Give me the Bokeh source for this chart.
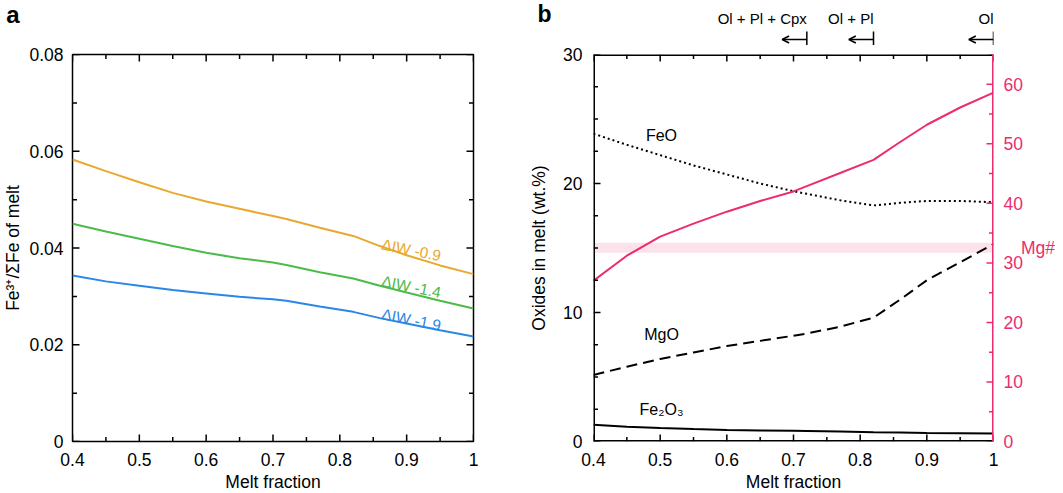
import math
from bokeh.plotting import figure
from bokeh.models import (LinearAxis, Range1d, FixedTicker, PrintfTickFormatter,
                          Label, Arrow, OpenHead, ColumnDataSource)
from bokeh.layouts import row, column
from bokeh.embed import file_html
from bokeh.resources import INLINE

FONT = "Liberation Sans"

# ---------------- data: panel a ----------------
melt_a = [0.4, 0.45, 0.5, 0.55, 0.6, 0.65, 0.7, 0.72, 0.77, 0.82, 0.86, 0.9, 0.95, 1.0]
ratio_iw09 = [0.0583, 0.0559, 0.0536, 0.0514, 0.0496, 0.0481, 0.0466, 0.0460, 0.0442, 0.0425, 0.0404, 0.0385, 0.0364, 0.0346]
ratio_iw14 = [0.0450, 0.0434, 0.0419, 0.0404, 0.0390, 0.0379, 0.0370, 0.0365, 0.0350, 0.0337, 0.0322, 0.0308, 0.0291, 0.0275]
ratio_iw19 = [0.0343, 0.0331, 0.0322, 0.0313, 0.0306, 0.0299, 0.0294, 0.0291, 0.0279, 0.0268, 0.0255, 0.0244, 0.0230, 0.0217]
series_a_labels = ["ΔIW -0.9", "ΔIW -1.4", "ΔIW -1.9"]
series_a_label_x = [0.907, 0.907, 0.907]
series_a_label_y = [0.0396, 0.0320, 0.0252]

# ---------------- data: panel b ----------------
melt_b = [0.4, 0.45, 0.5, 0.55, 0.6, 0.65, 0.7, 0.72, 0.77, 0.82, 0.86, 0.9, 0.95, 1.0]
feo = [23.86, 23.0, 22.2, 21.4, 20.7, 20.0, 19.4, 19.2, 18.7, 18.3, 18.5, 18.65, 18.65, 18.55]
mgo = [5.16, 5.8, 6.4, 6.9, 7.4, 7.8, 8.2, 8.37, 8.9, 9.6, 11.0, 12.5, 13.9, 15.3]
fe2o3 = [1.29, 1.15, 1.04, 0.96, 0.90, 0.86, 0.83, 0.82, 0.77, 0.72, 0.69, 0.66, 0.64, 0.62]
mg_number = [27.0, 31.2, 34.4, 36.6, 38.6, 40.4, 42.0, 42.9, 45.1, 47.3, 50.3, 53.2, 56.1, 58.6]
band_x = [0.4, 1.0]
band_lo = [31.7, 31.7]
band_hi = [33.4, 33.4]
oxide_labels = ["FeO", "MgO", "Fe₂O₃"]
oxide_label_x = [0.502, 0.502, 0.502]
oxide_label_y = [23.7, 8.3, 2.5]
assemblage_labels = ["Ol + Pl + Cpx", "Ol + Pl", "Ol"]
assemblage_x = [0.72, 0.82, 1.0]

# ticks
x_ticks = [0.4, 0.5, 0.6, 0.7, 0.8, 0.9, 1.0]
x_minor = [0.45, 0.55, 0.65, 0.75, 0.85, 0.95]
ya_ticks = [0, 0.02, 0.04, 0.06, 0.08]
ya_minor = [0.01, 0.03, 0.05, 0.07]
yb_ticks = [0, 10, 20, 30]
yb_minor = [2.5, 5, 7.5, 12.5, 15, 17.5, 22.5, 25, 27.5]
mg_ticks = [0, 10, 20, 30, 40, 50, 60]
mg_minor = [5, 15, 25, 35, 45, 55, 65]

ORANGE = "#e9a82e"
GREEN = "#4cbb4a"
BLUE = "#2b87e6"
PINK = "#ec2c6f"
BAND = "#fce3eb"

# layout (pixels)
FRAME_H = 387
A_LEFT, A_FRAME, A_RIGHT = 67, 401, 53
B_LEFT, B_FRAME, B_RIGHT = 62, 400, 64
TOP = 9
HEAD1_H = 27        # strip with panel letter / assemblage names
HEAD2_H = 18        # strip with the bars and arrows
BOTTOM = 52
MAJ, MIN = 7, 4.5
FS = "17.5px"


def style_axis(ax, color="black", label_standoff=11, axis_standoff=3):
    ax.axis_line_color = None
    ax.major_tick_line_color = None
    ax.minor_tick_line_color = None
    ax.major_tick_in = 0
    ax.major_tick_out = 0
    ax.minor_tick_in = 0
    ax.minor_tick_out = 0
    ax.major_label_text_font = FONT
    ax.major_label_text_font_size = FS
    ax.major_label_text_color = color
    ax.major_label_standoff = label_standoff
    ax.axis_label_text_font = FONT
    ax.axis_label_text_font_size = FS
    ax.axis_label_text_font_style = "normal"
    ax.axis_label_text_color = color
    ax.axis_label_standoff = axis_standoff
    ax.formatter = PrintfTickFormatter(format="%g")


def horizontal_label(ax):
    try:
        ax.axis_label_orientation = "horizontal"
    except Exception:
        pass


def inward_ticks(p, xr, yr, xt, yt, color="black", sides=("left", "right", "top", "bottom"),
                 y_range_name="default"):
    """Inward tick marks drawn as screen-length rays from the frame edges."""
    kw = dict(line_color=color, line_width=1.5, length_units="screen")
    if y_range_name != "default":
        kw["y_range_name"] = y_range_name
    for ticks, ln in ((xt[0], MAJ), (xt[1], MIN)):
        if "bottom" in sides:
            p.ray(x=ticks, y=[yr.start] * len(ticks), length=ln, angle=math.pi / 2, **kw)
        if "top" in sides:
            p.ray(x=ticks, y=[yr.end] * len(ticks), length=ln, angle=-math.pi / 2, **kw)
    for ticks, ln in ((yt[0], MAJ), (yt[1], MIN)):
        if "left" in sides:
            p.ray(x=[xr.start] * len(ticks), y=ticks, length=ln, angle=0, **kw)
        if "right" in sides:
            p.ray(x=[xr.end] * len(ticks), y=ticks, length=ln, angle=math.pi, **kw)


def strip(left, frame, right, height, bottom=0, letter=None, letter_size="24px",
          letter_standoff=0):
    """Header strip with the same frame as the panel below it."""
    h = figure(frame_width=frame, frame_height=height, title=None,
               x_range=Range1d(0.4, 1.0), y_range=Range1d(0, height),
               x_axis_location=None, y_axis_location="left" if letter else None,
               output_backend="svg", toolbar_location=None,
               min_border=0, min_border_left=left, min_border_right=right,
               min_border_top=0, min_border_bottom=bottom)
    h.outline_line_color = None
    h.xgrid.visible = False
    h.ygrid.visible = False
    if letter:
        ax = h.yaxis[0]
        ax.ticker = FixedTicker(ticks=[])
        ax.axis_line_color = None
        ax.major_tick_line_color = None
        ax.minor_tick_line_color = None
        ax.major_tick_in = ax.major_tick_out = ax.minor_tick_in = ax.minor_tick_out = 0
        ax.major_label_standoff = 0
        ax.axis_label = letter
        ax.axis_label_text_font = FONT
        ax.axis_label_text_font_size = letter_size
        ax.axis_label_text_font_style = "bold"
        ax.axis_label_text_color = "black"
        ax.axis_label_standoff = letter_standoff
        horizontal_label(ax)
    return h


# ================= panel a =================
xr_a = Range1d(0.4, 1.0)
yr_a = Range1d(0, 0.08)
p1 = figure(frame_width=A_FRAME, frame_height=FRAME_H, title=None,
            x_range=xr_a, y_range=yr_a,
            output_backend="svg", toolbar_location=None,
            min_border_left=A_LEFT, min_border_right=A_RIGHT,
            min_border_top=TOP, min_border_bottom=BOTTOM)
p1.outline_line_color = "black"
p1.outline_line_width = 1.5
p1.xgrid.visible = False
p1.ygrid.visible = False

p1.xaxis.ticker = FixedTicker(ticks=x_ticks)
p1.yaxis.ticker = FixedTicker(ticks=ya_ticks)
p1.xaxis.axis_label = "Melt fraction"
p1.yaxis.axis_label = "Fe³⁺/ΣFe of melt"
style_axis(p1.xaxis[0], label_standoff=11, axis_standoff=3)
style_axis(p1.yaxis[0], label_standoff=9, axis_standoff=3)

for ys, col in zip([ratio_iw09, ratio_iw14, ratio_iw19], [ORANGE, GREEN, BLUE]):
    p1.line(melt_a, ys, line_color=col, line_width=2)

inward_ticks(p1, xr_a, yr_a, (x_ticks, x_minor), (ya_ticks, ya_minor))

for txt, lx, ly, col in zip(series_a_labels, series_a_label_x, series_a_label_y,
                            [ORANGE, GREEN, BLUE]):
    p1.add_layout(Label(x=lx, y=ly, text=txt, text_color=col, text_font=FONT,
                        text_font_size="15.5px", text_align="center",
                        text_baseline="middle", angle=-0.2))

h1 = strip(A_LEFT, A_FRAME, A_RIGHT, HEAD1_H, bottom=HEAD2_H, letter="a",
           letter_size="24px", letter_standoff=A_LEFT - 14)

# ================= panel b =================
xr_b = Range1d(0.4, 1.0)
yr_b = Range1d(0, 30)
mg_range = Range1d(0, 65)
p2 = figure(frame_width=B_FRAME, frame_height=FRAME_H, title=None,
            x_range=xr_b, y_range=yr_b,
            output_backend="svg", toolbar_location=None,
            min_border_left=B_LEFT, min_border_right=B_RIGHT,
            min_border_top=TOP, min_border_bottom=BOTTOM)
p2.outline_line_color = None
p2.xgrid.visible = False
p2.ygrid.visible = False
p2.extra_y_ranges = {"mg": mg_range}

p2.xaxis.ticker = FixedTicker(ticks=x_ticks)
p2.yaxis.ticker = FixedTicker(ticks=yb_ticks)
p2.xaxis.axis_label = "Melt fraction"
p2.yaxis.axis_label = "Oxides in melt (wt.%)"
style_axis(p2.xaxis[0], label_standoff=11, axis_standoff=3)
style_axis(p2.yaxis[0], label_standoff=11, axis_standoff=11)

right2 = LinearAxis(y_range_name="mg", ticker=FixedTicker(ticks=mg_ticks))
style_axis(right2, color=PINK, label_standoff=10, axis_standoff=-5)
right2.axis_label = "Mg#"
horizontal_label(right2)
p2.add_layout(right2, "right")

band_src = ColumnDataSource(dict(x=band_x, lo=band_lo, hi=band_hi))
p2.varea(x="x", y1="lo", y2="hi", source=band_src, fill_color=BAND, y_range_name="mg")

p2.line(melt_b, feo, line_color="black", line_width=2, line_dash="2 3")
p2.line(melt_b, mgo, line_color="black", line_width=2, line_dash="11 6")
p2.line(melt_b, fe2o3, line_color="black", line_width=2)
p2.line(melt_b, mg_number, line_color=PINK, line_width=2, y_range_name="mg")

inward_ticks(p2, xr_b, yr_b, (x_ticks, x_minor), (yb_ticks, yb_minor),
             sides=("left", "top", "bottom"))
inward_ticks(p2, xr_b, mg_range, ([], []), (mg_ticks, mg_minor), color=PINK,
             sides=("right",), y_range_name="mg")

# frame edges of panel b (black box with a pink right edge)
p2.line([xr_b.start, xr_b.end], [yr_b.end, yr_b.end], line_color="black", line_width=3)
p2.line([xr_b.start, xr_b.end], [yr_b.start, yr_b.start], line_color="black", line_width=3)
p2.line([xr_b.start, xr_b.start], [yr_b.start, yr_b.end], line_color="black", line_width=3)
p2.line([xr_b.end, xr_b.end], [yr_b.start, yr_b.end], line_color=PINK, line_width=3)

for txt, lx, ly in zip(oxide_labels, oxide_label_x, oxide_label_y):
    p2.add_layout(Label(x=lx, y=ly, text=txt, text_font=FONT, text_font_size="16px",
                        text_color="black", text_align="center", text_baseline="middle"))

# header strips of panel b: letter + assemblage names, then bars + arrows
h2a = strip(B_LEFT, B_FRAME, B_RIGHT, HEAD1_H, letter="b", letter_size="23px",
            letter_standoff=B_LEFT - 6 - 14)
for txt, ax_x in zip(assemblage_labels, assemblage_x):
    h2a.add_layout(Label(x=ax_x, y=HEAD1_H - 18, text=txt, text_font=FONT,
                         text_font_size="15px", text_color="black",
                         text_align="right", text_baseline="middle"))

h2b = strip(B_LEFT, B_FRAME, B_RIGHT, HEAD2_H)
h2b.segment(x0=assemblage_x, y0=[0] * 3, x1=assemblage_x, y1=[HEAD2_H - 4] * 3,
            line_color="black", line_width=1.5)
for ax_x in assemblage_x:
    h2b.add_layout(Arrow(x_start=ax_x, y_start=HEAD2_H - 12, x_end=ax_x - 0.037,
                         y_end=HEAD2_H - 12,
                         end=OpenHead(size=7, line_width=1.5, line_color="black"),
                         line_width=1.5, line_color="black"))

layout = row(column(h1, p1), column(h2a, h2b, p2))
open("out.html", "w").write(file_html(layout, INLINE))
